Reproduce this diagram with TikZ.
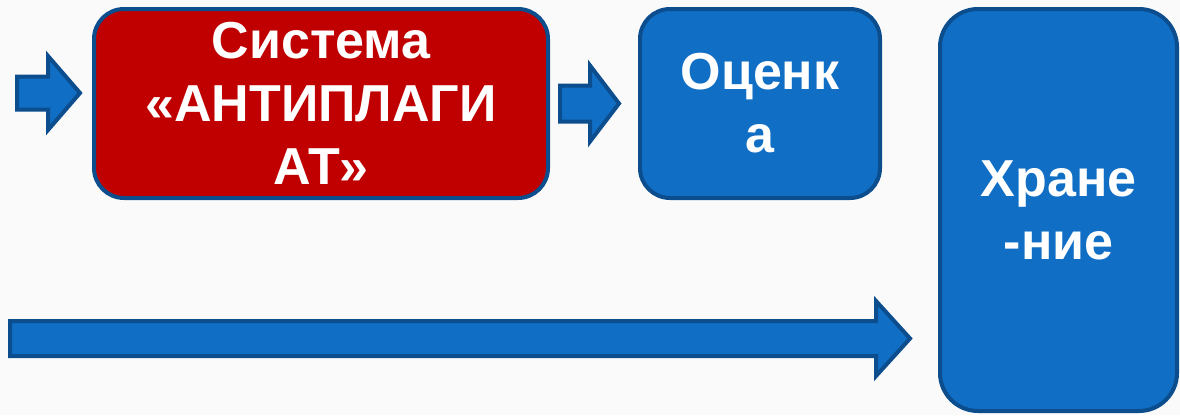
\documentclass[tikz,border=0pt]{standalone}
\usepackage{fontspec}
\setmainfont{Liberation Sans}
\usetikzlibrary{calc}
\definecolor{bgc}{HTML}{FAFAFA}
\definecolor{redc}{HTML}{C00000}
\definecolor{bluec}{HTML}{106FC5}
\definecolor{edgec}{HTML}{0B4D8D}

\tikzset{
  box/.style={draw=edgec, line width=4pt, rounded corners=30pt, text=white,
    font=\fontsize{52}{63}\selectfont\bfseries, align=center, inner sep=0pt},
  barrow/.style={draw=edgec, fill=bluec, line width=4pt, line join=miter},
}
% block arrow: from, to, shaft half width, head half width, head length
\newcommand{\blockarr}[5]{%
  \draw[barrow] let \p1=(#1), \p2=(#2) in
    (\x1,\y1+#3) -- (\x2-#5,\y1+#3) -- (\x2-#5,\y1+#4) -- (\x2,\y1)
    -- (\x2-#5,\y1-#4) -- (\x2-#5,\y1-#3) -- (\x1,\y1-#3) -- cycle;}

\begin{document}
\begin{tikzpicture}[x=1pt, y=-1pt]
  \fill[bgc] (0,0) rectangle (1180,415);
  \useasboundingbox (0,0) rectangle (1180,415);
  % boxes
  \node[box, fill=redc, minimum width=454, minimum height=189] (sys) at (321,103.5)
    {Система\\«АНТИПЛАГИ\\АТ»};
  \node[box, fill=bluec, minimum width=240, minimum height=189] (ocen) at (760,103.5)
    {Оценк\\а};
  \node[box, fill=bluec, rounded corners=38pt, minimum width=237, minimum height=402]
    (store) at (1058.5,210) {Хране\\-ние};
  % arrows
  \coordinate (in1) at (17,93);
  \coordinate (in2) at (10,338.5);
  \blockarr{in1}{$(in1 -| sys.west)+(-12,0)$}{16.5pt}{37pt}{32pt}
  \blockarr{$(sys.east)+(10,0)$}{$(ocen.west)+(-19,0)$}{18pt}{38pt}{29pt}
  \blockarr{in2}{$(in2 -| store.west)+(-28,0)$}{17.5pt}{37.5pt}{34pt}
\end{tikzpicture}
\end{document}
